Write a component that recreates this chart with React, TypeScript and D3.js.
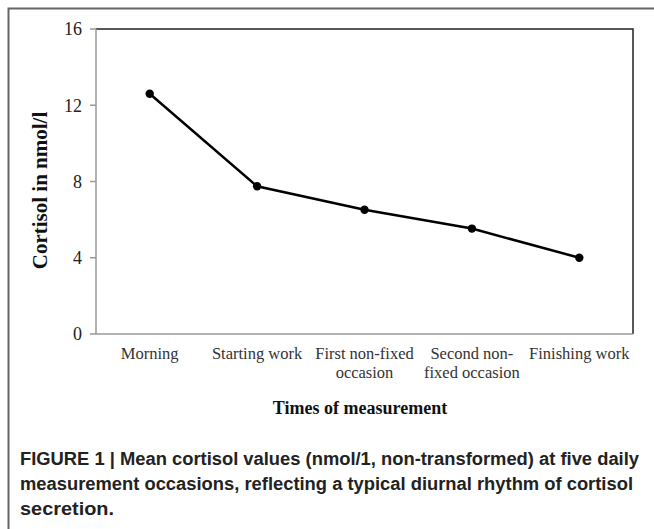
import React, { useEffect, useRef } from 'react';
import * as d3 from 'd3';

const categories = ['Morning', 'Starting work', 'First non-fixed occasion', 'Second non-fixed occasion', 'Finishing work'];
const labelLines = [['Morning'], ['Starting work'], ['First non-fixed', 'occasion'], ['Second non-', 'fixed occasion'], ['Finishing work']];
const cortisol = [12.6, 7.75, 6.52, 5.53, 4.0];
const yTicks = [0, 4, 8, 12, 16];
const captionLines = [
  'FIGURE 1 | Mean cortisol values (nmol/1, non-transformed) at five daily',
  'measurement occasions, reflecting a typical diurnal rhythm of cortisol',
  'secretion.',
];

const App = () => {
  const ref = useRef<SVGSVGElement>(null);

  useEffect(() => {
    const svg = d3.select(ref.current);
    svg.selectAll('*').remove();

    const W = 654, H = 529;
    const left = 96, right = 633, top = 29, bottom = 334;
    const serif = '"Liberation Serif", "Times New Roman", serif';

    // outer frame (right and bottom cut off)
    svg.append('path')
      .attr('d', `M8.5,${H}V8.5H${W}`)
      .attr('fill', 'none')
      .attr('stroke', '#666')
      .attr('stroke-width', 2);

    const x = d3.scaleBand().domain(categories).range([left, right]);
    const y = d3.scaleLinear().domain([0, 16]).range([bottom, top]);

    // plot frame: top/right dark, left/bottom grey axes
    svg.append('path')
      .attr('d', `M${left},${top}H${right}V${bottom}`)
      .attr('fill', 'none')
      .attr('stroke', '#222')
      .attr('stroke-width', 1.5);

    svg.append('line')
      .attr('x1', left).attr('x2', left)
      .attr('y1', top).attr('y2', bottom)
      .attr('stroke', '#999').attr('stroke-width', 1.5);
    svg.append('line')
      .attr('x1', left).attr('x2', right)
      .attr('y1', bottom).attr('y2', bottom)
      .attr('stroke', '#999').attr('stroke-width', 1.5);

    // y ticks
    const yt = svg.append('g');
    yt.selectAll('line').data(yTicks).enter().append('line')
      .attr('x1', left - 6).attr('x2', left)
      .attr('y1', d => y(d)).attr('y2', d => y(d))
      .attr('stroke', '#999').attr('stroke-width', 1.5);
    yt.selectAll('text').data(yTicks).enter().append('text')
      .attr('x', 82)
      .attr('y', d => y(d))
      .attr('dy', '0.35em')
      .attr('text-anchor', 'end')
      .attr('font-family', serif)
      .attr('font-size', 18)
      .attr('fill', '#222')
      .text(d => d);

    // category labels
    const xl = svg.append('g')
      .attr('font-family', serif)
      .attr('font-size', 16.5)
      .attr('fill', '#333')
      .attr('text-anchor', 'middle');
    categories.forEach((c, i) => {
      labelLines[i].forEach((ln, j) => {
        xl.append('text')
          .attr('x', x(c)! + x.bandwidth() / 2)
          .attr('y', 359 + j * 19)
          .text(ln);
      });
    });

    // axis titles
    svg.append('text')
      .attr('x', 360).attr('y', 414)
      .attr('text-anchor', 'middle')
      .attr('font-family', serif)
      .attr('font-weight', 'bold')
      .attr('font-size', 18)
      .attr('fill', '#111')
      .text('Times of measurement');

    svg.append('text')
      .attr('transform', `translate(47,${(top + bottom) / 2 + 9}) rotate(-90)`)
      .attr('text-anchor', 'middle')
      .attr('font-family', serif)
      .attr('font-weight', 'bold')
      .attr('font-size', 21)
      .attr('fill', '#111')
      .text('Cortisol in nmol/l');

    // line + markers
    const pts = categories.map((c, i) => [x(c)! + x.bandwidth() / 2, y(cortisol[i])] as [number, number]);
    svg.append('path')
      .attr('d', d3.line()(pts))
      .attr('fill', 'none')
      .attr('stroke', '#000')
      .attr('stroke-width', 2.5);
    svg.append('g').selectAll('circle').data(pts).enter().append('circle')
      .attr('cx', d => d[0]).attr('cy', d => d[1])
      .attr('r', 4.2)
      .attr('fill', '#000');

    // caption (narrow bold sans, stretched vertically)
    const capEnds = [639, 633, 114];
    svg.append('g')
      .attr('font-family', '"Liberation Sans", Arial, sans-serif')
      .attr('font-weight', 'bold')
      .attr('font-size', 17)
      .attr('fill', '#222')
      .selectAll('text').data(captionLines).enter().append('text')
      .attr('transform', (d, i) => `translate(20,${465 + i * 25}) scale(1,1.12)`)
      .attr('textLength', (d, i) => capEnds[i] - 20)
      .attr('lengthAdjust', 'spacingAndGlyphs')
      .text(d => d);
  }, []);

  return (
    <svg ref={ref} width={654} height={529}
      style={{ position: 'absolute', left: 0, top: 0, background: '#fff' }} />
  );
};

export default App;
